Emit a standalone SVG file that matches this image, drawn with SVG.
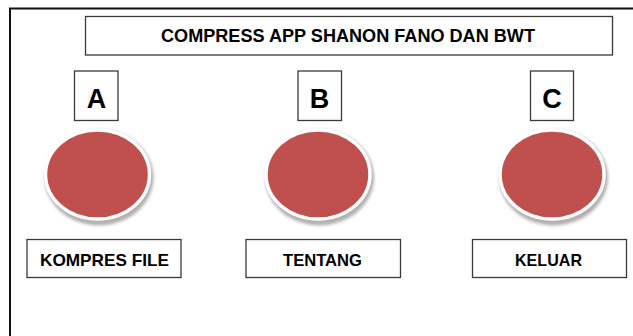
<svg xmlns="http://www.w3.org/2000/svg" width="633" height="336" viewBox="0 0 633 336">
<style>
.box{fill:#fff;stroke:#3a3a3a;stroke-width:1.3}
.t{font-family:"Liberation Sans",Arial,sans-serif;font-weight:bold;fill:#000;text-anchor:middle}
.btn{fill:#C0504D;stroke:#fff;stroke-width:3.5}
.sh{fill:#b5b0b0;filter:url(#blur)}
</style>
<defs>
<filter id="blur" x="-20%" y="-20%" width="140%" height="140%"><feGaussianBlur stdDeviation="1.8"/></filter>
</defs>
<rect width="633" height="336" fill="#fff"/>
<g id="frame">
<path d="M10,336 V8.5 H633" fill="none" stroke="#111" stroke-width="2"/>
</g>
<g id="title">
<rect class="box" x="85.5" y="16.5" width="527" height="38.5"/>
<text class="t" x="348" y="41.5" font-size="17.5" textLength="374" lengthAdjust="spacingAndGlyphs">COMPRESS APP SHANON FANO DAN BWT</text>
</g>
<g id="nodeA">
<rect class="box" x="74.5" y="71" width="43.5" height="49.5"/>
<text class="t" x="96.5" y="108" font-size="27">A</text>
<ellipse class="sh" cx="99" cy="177.5" rx="54.5" ry="48"/>
<ellipse class="btn" cx="97.5" cy="174.5" rx="52" ry="44.5"/>
<rect class="box" x="27" y="239.5" width="154" height="38"/>
<text class="t" x="104.5" y="266" font-size="17" textLength="129" lengthAdjust="spacingAndGlyphs">KOMPRES FILE</text>
</g>
<g id="nodeB">
<rect class="box" x="298" y="71" width="43.5" height="49.5"/>
<text class="t" x="319.5" y="108" font-size="27">B</text>
<ellipse class="sh" cx="319.5" cy="177.5" rx="54.5" ry="48"/>
<ellipse class="btn" cx="318" cy="174.5" rx="52" ry="44.5"/>
<rect class="box" x="246" y="239.5" width="154.5" height="38"/>
<text class="t" x="322.5" y="266" font-size="17" textLength="79" lengthAdjust="spacingAndGlyphs">TENTANG</text>
</g>
<g id="nodeC">
<rect class="box" x="530.5" y="71" width="43" height="49.5"/>
<text class="t" x="552" y="108" font-size="27">C</text>
<ellipse class="sh" cx="553.5" cy="177.5" rx="54.5" ry="48"/>
<ellipse class="btn" cx="552" cy="174.5" rx="52" ry="44.5"/>
<rect class="box" x="472.5" y="239.5" width="154" height="38"/>
<text class="t" x="548.5" y="266" font-size="17" textLength="67" lengthAdjust="spacingAndGlyphs">KELUAR</text>
</g>
<g id="connectors"/>
</svg>
